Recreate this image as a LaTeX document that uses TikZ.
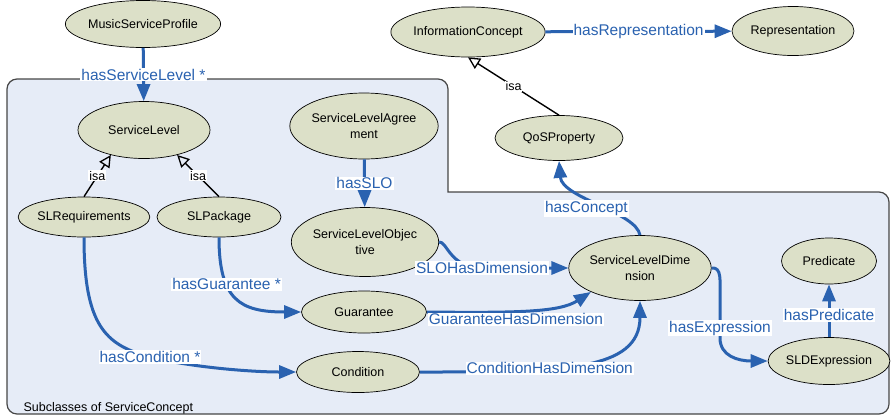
\documentclass[tikz,border=0pt]{standalone}
\usepackage{fontspec}
\setmainfont{Liberation Sans}
\usetikzlibrary{arrows.meta,shapes.geometric}
\definecolor{conceptfill}{RGB}{220,224,200}
\definecolor{groupfill}{RGB}{230,236,247}
\definecolor{groupline}{RGB}{70,70,70}
\definecolor{relblue}{RGB}{42,98,176}

\begin{document}
\begin{tikzpicture}[x=1pt,y=-1pt,
  concept/.style={ellipse,draw,fill=conceptfill,line width=0.7pt,inner sep=0pt,align=center,font=\fontsize{12.5}{16}\selectfont},
  rel/.style={relblue,line width=3pt,-{Triangle[length=17pt,width=13pt]}},
  isa/.style={line width=1.4pt,-{Triangle[open,length=12pt,width=12pt,line width=1.3pt]}},
  rlabel/.style={fill=white,text=relblue,inner sep=1pt,font=\fontsize{15.5}{17}\selectfont},
  isalabel/.style={fill=white,text=black,inner sep=1pt,font=\fontsize{12.5}{14}\selectfont},
  group/.style={fill=groupfill,draw=groupline,line width=1.2pt}]
\useasboundingbox (0,0) rectangle (891,416);

\draw[group] (7,250) [rounded corners=10pt] -- (7,79) -- (448,79) [sharp corners] -- (448,192) -- (600,192) [rounded corners=10pt] -- (889,192) -- (889,414) -- (7,414) -- cycle;
\node[anchor=base west,font=\fontsize{12.5}{14}\selectfont] (grouplabel) at (20,411) {Subclasses of ServiceConcept};

\node[concept,minimum width=138pt,minimum height=47pt] (msp) at (143,24) {MusicServiceProfile};
\node[concept,minimum width=132pt,minimum height=57pt] (sl) at (144,130) {ServiceLevel};
\node[concept,minimum width=124pt,minimum height=66pt] (sla) at (364,126) {ServiceLevelAgree\\ment};
\node[concept,minimum width=128pt,minimum height=50pt] (ic) at (468,32) {InformationConcept};
\node[concept,minimum width=122pt,minimum height=49pt] (rep) at (793,31) {Representation};
\node[concept,minimum width=128pt,minimum height=45pt] (qos) at (559,138) {QoSProperty};
\node[concept,minimum width=124pt,minimum height=40pt] (slr) at (84,217) {SLRequirements};
\node[concept,minimum width=124pt,minimum height=40pt] (slp) at (219,217) {SLPackage};
\node[concept,minimum width=124pt,minimum height=69pt] (slo) at (365,242) {ServiceLevelObjec\\tive};
\node[concept,minimum width=125pt,minimum height=42pt] (gua) at (364,312) {Guarantee};
\node[concept,minimum width=123pt,minimum height=41pt] (cond) at (358,372) {Condition};
\node[concept,minimum width=125pt,minimum height=65pt] (sld) at (640,268) {ServiceLevelDime\\nsion};
\node[concept,minimum width=95pt,minimum height=46pt] (pred) at (829,261) {Predicate};
\node[concept,minimum width=112pt,minimum height=47pt] (slde) at (829,361) {SLDExpression};

\draw[rel] (msp) -- node[rlabel]{hasServiceLevel *} (sl);
\draw[isa] (slr.north) -- node[isalabel]{isa} (sl.217);
\draw[isa] (slp.north) -- node[isalabel]{isa} (sl.323);
\draw[rel] (sla) -- node[rlabel]{hasSLO} (slo);
\draw[rel] (ic) -- node[rlabel]{hasRepresentation} (rep);
\draw[isa] (qos.north) -- node[isalabel]{isa} (ic.south);
\draw[rel] (sld.north) .. controls (636,212) and (562,198) .. (qos.south) node[rlabel,pos=0.42,xshift=-22pt]{hasConcept};
\draw[rel] (slo.east) .. controls (447,241) and (450,268) .. (482,268) node[rlabel]{SLOHasDimension} -- (sld.west);
\draw[rel] (gua.east) .. controls (520,313) and (560,312) .. (sld.206) node[rlabel,pos=0.4,below]{GuaranteeHasDimension};
\draw[rel] (cond.east) .. controls (560,372) and (640,372) .. (sld.south) node[rlabel,pos=0.37]{ConditionHasDimension};
\draw[rel] (sld.east) .. controls (722,267) and (720,280) .. (720,300) -- (720,328) node[rlabel]{hasExpression} -- (720,338) .. controls (720,356) and (738,361) .. (slde.west);
\draw[rel] (slde) -- node[rlabel,pos=0.42]{hasPredicate} (pred);
\draw[rel] (slp.south) .. controls (219,300) and (240,312) .. (gua.west) node[rlabel,pos=0.33]{hasGuarantee *};
\draw[rel] (slr.south) .. controls (84,325) and (105,345) .. (150,357) node[rlabel]{hasCondition *} .. controls (190,367) and (250,372) .. (cond.west);
\end{tikzpicture}
\end{document}
